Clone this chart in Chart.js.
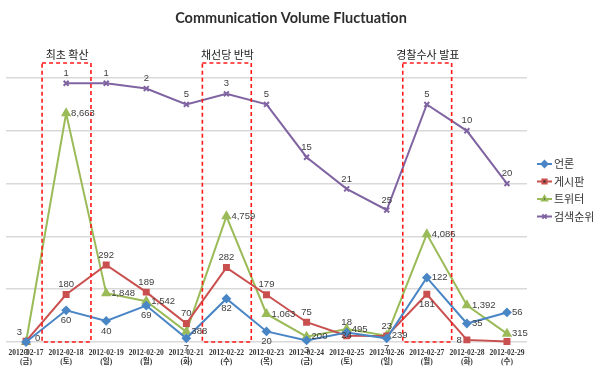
<!DOCTYPE html>
<html>
<head>
<meta charset="utf-8">
<script src="https://cdn.jsdelivr.net/npm/chart.js@4.4.0/dist/chart.umd.min.js"></script>
<style>
    html, body { margin: 0; padding: 0; background: #fff; }
    #wrap { width: 600px; height: 379px; position: relative; }
</style>
</head>
<body>
<div id="wrap"><canvas id="commChart"></canvas></div>
<script>
const categories = ['2012-02-17', '2012-02-18', '2012-02-19', '2012-02-20', '2012-02-21', '2012-02-22', '2012-02-23',
    '2012-02-24', '2012-02-25', '2012-02-26', '2012-02-27', '2012-02-28', '2012-02-29'];
const weekdays = ['(금)', '(토)', '(일)', '(월)', '(화)', '(수)', '(목)', '(금)', '(토)', '(일)', '(월)', '(화)', '(수)'];

const pressData = [0, 60, 40, 69, 7, 82, 20, 3, 18, 7, 122, 35, 56];
const boardData = [3, 180, 292, 189, 70, 282, 179, 75, 24, 23, 181, 8, 2];
const twitterData = [0, 8663, 1848, 1542, 388, 4759, 1063, 200, 495, 239, 4086, 1392, 315];
const searchRank = [null, 1, 1, 2, 5, 3, 5, 15, 21, 25, 5, 10, 20];

const eventIndexes = [1, 5, 10];
const eventLabels = ['최초 확산', '채선당 반박', '경찰수사 발표'];

const chartTitle = 'Communication Volume Fluctuation';

// where each value label sits (style only)
const pressLabelPos = ['below', 'below', 'below', 'below', 'below', 'below', 'below', 'below', 'above', 'below', 'right', 'right', 'right'];
const boardLabelPos = ['aboveLeft', 'above', 'above', 'above', 'above', 'above', 'above', 'above', 'center', 'above', 'below', 'left', 'none'];
const twitterLabelPos = ['aboveRight'].concat(categories.slice(1).map(() => 'right'));
const rankLabelPos = categories.map(() => 'above');

const labelColor = '#404040';

const titlePlugin = {
    id: 'titleText',
    afterDraw(chart) {
        const ctx = chart.ctx;
        ctx.save();
        ctx.font = 'bold 14.5px Lato, "Liberation Sans", sans-serif';
        ctx.fillStyle = '#2e2e2e';
        ctx.textAlign = 'center';
        ctx.textBaseline = 'middle';
        ctx.fillText(chartTitle, 291, 18);
        ctx.restore();
    }
};

const eventBoxPlugin = {
    id: 'eventBoxes',
    afterDatasetsDraw(chart) {
        const { ctx, chartArea, scales } = chart;
        const x = scales.x;
        const step = x.getPixelForValue(1) - x.getPixelForValue(0);
        ctx.save();
        ctx.strokeStyle = '#ff1a1a';
        ctx.lineWidth = 1.6;
        ctx.setLineDash([4, 3]);
        eventIndexes.forEach((idx, i) => {
            const cx = x.getPixelForValue(idx);
            const left = cx - step * 0.6;
            const right = cx + step * 0.62;
            const top = chartArea.top - 15;
            const bottom = chartArea.bottom;
            ctx.strokeRect(left, top, right - left, bottom - top);

            ctx.fillStyle = '#222222';
            ctx.font = '11px "Noto Sans CJK KR", sans-serif';
            ctx.textAlign = 'center';
            ctx.textBaseline = 'middle';
            ctx.fillText(eventLabels[i], cx + 1, top - 8);
        });
        ctx.restore();
    }
};

const dataLabelPlugin = {
    id: 'valueLabels',
    afterDatasetsDraw(chart) {
        const ctx = chart.ctx;
        ctx.save();
        ctx.font = '9.5px "Liberation Sans", Arial, sans-serif';
        ctx.fillStyle = labelColor;
        chart.data.datasets.forEach((ds, di) => {
            const meta = chart.getDatasetMeta(di);
            meta.data.forEach((pt, i) => {
                const v = ds.data[i];
                const pos = ds.labelPos[i];
                if (v === null || pos === 'none') return;
                const text = v.toLocaleString('en-US');
                let tx = pt.x, ty = pt.y;
                ctx.textAlign = 'center';
                ctx.textBaseline = 'middle';
                if (pos === 'above') ty -= 10;
                else if (pos === 'below') ty += 10;
                else if (pos === 'right') { tx += 5; ctx.textAlign = 'left'; }
                else if (pos === 'left') { tx -= 5; ctx.textAlign = 'right'; }
                else if (pos === 'aboveLeft') { tx -= 4; ty -= 9; ctx.textAlign = 'right'; }
                else if (pos === 'aboveRight') { tx += 9; ty -= 4; ctx.textAlign = 'left'; }
                ctx.fillText(text, tx, ty);
            });
        });
        ctx.restore();
    }
};

const legendPlugin = {
    id: 'sideLegend',
    afterDraw(chart) {
        const ctx = chart.ctx;
        ctx.save();
        chart.data.datasets.forEach((ds, i) => {
            const y = 164 + i * 17.5;
            ctx.strokeStyle = ds.borderColor;
            ctx.lineWidth = 2;
            ctx.setLineDash([]);
            ctx.beginPath();
            ctx.moveTo(537, y);
            ctx.lineTo(552, y);
            ctx.stroke();
            Chart.helpers.drawPoint(ctx, {
                pointStyle: ds.pointStyle,
                radius: 3,
                borderWidth: 1
            }, 544.5, y);
            ctx.fillStyle = '#333333';
            ctx.font = '11px "Noto Sans CJK KR", sans-serif';
            ctx.textAlign = 'left';
            ctx.textBaseline = 'middle';
            ctx.fillText(ds.label, 554, y);
        });
        ctx.restore();
    }
};

function series(label, data, color, pointStyle, axis, labelPos, radius) {
    return {
        label: label,
        data: data,
        yAxisID: axis,
        borderColor: color,
        backgroundColor: color,
        pointBackgroundColor: color,
        pointBorderColor: color,
        pointStyle: pointStyle,
        pointRadius: radius,
        borderWidth: 2,
        tension: 0,
        clip: false,
        labelPos: labelPos
    };
}

new Chart(document.getElementById('commChart').getContext('2d'), {
    type: 'line',
    data: {
        labels: categories.map((c, i) => [c, weekdays[i]]),
        datasets: [
            series('언론', pressData, '#4a86c5', 'rectRot', 'y', pressLabelPos, 3.5),
            series('게시판', boardData, '#c9504f', 'rect', 'y2', boardLabelPos, 3.5),
            series('트위터', twitterData, '#9bbb59', 'triangle', 'y3', twitterLabelPos, 4),
            series('검색순위', searchRank, '#8064a2', 'crossRot', 'y4', rankLabelPos, 3.5)
        ]
    },
    options: {
        responsive: true,
        maintainAspectRatio: false,
        animation: false,
        layout: {
            padding: { top: 78, left: 5, right: 73, bottom: 0 }
        },
        scales: {
            x: {
                offset: true,
                grid: { display: false },
                border: { display: false },
                ticks: {
                    autoSkip: false,
                    maxRotation: 0,
                    padding: -1,
                    color: '#333333',
                    font: { family: '"Liberation Serif", "Noto Sans CJK KR", serif', size: 7.5, weight: 'bold', lineHeight: 1.12 }
                },
                afterFit: scale => { scale.height = 37; }
            },
            y: {
                min: 0,
                max: 500,
                ticks: { display: false, stepSize: 100 },
                border: { display: false },
                grid: { color: '#d9d9d9', lineWidth: 1.5, drawTicks: false },
                afterFit: scale => { scale.width = 0; }
            },
            y2: { display: false, min: 0, max: 1000 },
            y3: { display: false, min: 0, max: 10000 },
            y4: { display: false, min: 0, max: 50, reverse: true }
        },
        plugins: {
            legend: { display: false },
            title: { display: false },
            tooltip: { enabled: false }
        }
    },
    plugins: [titlePlugin, eventBoxPlugin, dataLabelPlugin, legendPlugin]
});
</script>
</body>
</html>
